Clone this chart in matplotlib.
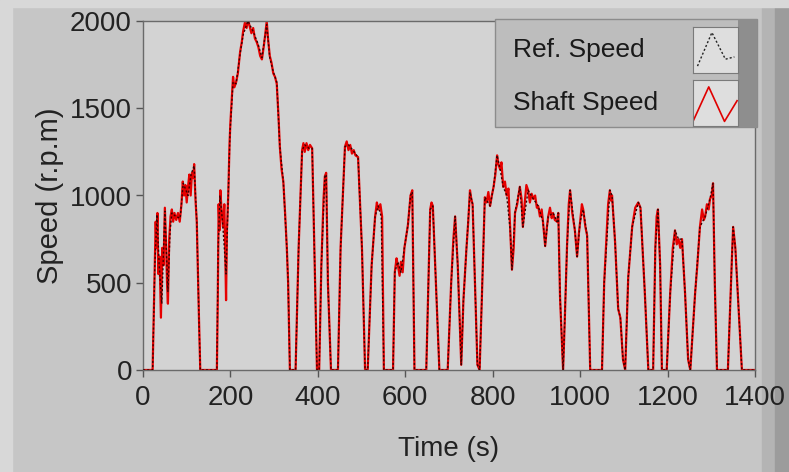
import matplotlib
matplotlib.use("Agg")
import matplotlib.pyplot as plt
from matplotlib.patches import Rectangle

plt.rcParams['font.family'] = ['Liberation Sans', 'DejaVu Sans']

# reference speed (black dotted)
ref_time = [0, 22, 27, 32, 37, 43, 50, 57, 62, 66, 75, 85, 92, 103, 110, 117, 123, 128, 131,
            169, 172, 176, 182, 190, 195, 199, 206, 213, 222, 229, 240, 252, 263, 272, 283, 290,
            298, 306, 313, 321, 329, 332, 336, 349, 356, 364, 370, 380, 387, 391, 398, 403, 408,
            416, 419, 423, 430, 446, 452, 462, 470, 480, 492, 501, 508, 514, 523, 531, 538, 545,
            551, 572, 576, 583, 590, 598, 606, 612, 616, 621, 648, 657, 663, 678, 697, 705, 714,
            720, 728, 733, 740, 748, 754, 765, 770, 775, 782, 794, 802, 810, 817, 824, 832, 840,
            844, 851, 862, 869, 881, 893, 904, 915, 920, 927, 938, 947, 950, 954, 961, 965, 970,
            977, 988, 993, 1000, 1007, 1016, 1023, 1050, 1055, 1068, 1073, 1080, 1087, 1092, 1098,
            1103, 1110, 1119, 1133, 1138, 1148, 1156, 1167, 1172, 1178, 1183, 1187, 1198, 1206,
            1217, 1225, 1233, 1240, 1247, 1252, 1263, 1274, 1286, 1297, 1304, 1308, 1313, 1338,
            1347, 1350, 1355, 1370, 1400]
ref_speed = [0, 0, 600, 890, 600, 380, 910, 450, 800, 900, 880, 870, 1070, 1000, 1120, 1170, 850, 300, 0,
             0, 700, 1000, 850, 550, 1000, 1360, 1650, 1640, 1810, 1920, 2000, 1940, 1870, 1790, 1980, 1790,
             1710, 1650, 1280, 1080, 700, 500, 0, 0, 700, 1260, 1290, 1270, 1270, 800, 0, 0, 600,
             1110, 1120, 500, 0, 0, 700, 1280, 1290, 1260, 1220, 690, 0, 0, 600, 880, 940, 880,
             0, 0, 560, 620, 560, 700, 830, 1000, 1020, 0, 0, 920, 940, 0, 0, 500, 880,
             600, 30, 400, 700, 1020, 950, 30, 0, 400, 990, 940, 1050, 1230, 1150, 1050, 1000, 800,
             575, 900, 1050, 820, 1030, 980, 940, 850, 710, 880, 900, 850, 900, 420, 0, 300, 710,
             1030, 800, 650, 850, 920, 770, 0, 0, 500, 1030, 1000, 730, 350, 300, 60,
             0, 530, 820, 960, 930, 440, 0, 0, 700, 920, 600, 0, 0, 440,
             800, 750, 750, 440, 60, 0, 440, 820, 880, 980, 1070, 500, 0, 0,
             630, 820, 700, 0, 0]

# measured shaft speed (red), noisier
shaft_time = [0, 22, 26, 29, 31, 33, 35, 38, 41, 44, 47, 50, 53, 55, 57, 60, 63, 66, 69, 72, 76, 80,
              84, 88, 91, 94, 97, 100, 103, 106, 109, 112, 115, 117, 120, 123, 128, 131,
              169, 171, 173, 175, 177, 180, 183, 186, 188, 190, 192, 195, 198, 200, 203, 206, 209,
              213, 217, 222, 226, 229, 233, 237, 240, 244, 248, 252, 256, 260, 264, 268, 272, 276,
              280, 283, 286, 290, 294, 298, 302, 306, 310, 313, 317, 321, 325, 329, 332, 336,
              349, 356, 364, 367, 370, 374, 378, 382, 387, 391, 398, 403, 408, 413, 416, 419, 423, 430,
              446, 452, 462, 466, 470, 474, 478, 482, 486, 492, 501, 508, 514, 523, 531, 535, 538, 543,
              547, 551, 572, 576, 580, 583, 587, 590, 594, 598, 606, 612, 616, 621, 648, 657, 660, 663, 678,
              697, 705, 710, 714, 720, 728, 733, 740, 744, 748, 751, 754, 765, 770, 775, 782, 786, 790,
              794, 798, 802, 806, 810, 813, 817, 820, 824, 828, 832, 836, 840, 844, 848, 851, 856, 862,
              866, 869, 873, 877, 881, 885, 889, 893, 897, 901, 904, 908, 912, 915, 920, 924, 927, 931,
              935, 938, 942, 947, 950, 954, 961, 965, 970, 974, 977, 982, 988, 993, 997, 1000, 1004,
              1007, 1012, 1016, 1023, 1050, 1055, 1064, 1068, 1071, 1073, 1080, 1087, 1092, 1098, 1103,
              1110, 1119, 1126, 1133, 1138, 1148, 1156, 1167, 1172, 1175, 1178, 1183, 1187, 1198, 1206,
              1212, 1217, 1221, 1225, 1229, 1233, 1240, 1247, 1252, 1263, 1268, 1274, 1279, 1283, 1286,
              1290, 1294, 1297, 1301, 1304, 1308, 1313, 1338, 1347, 1350, 1355, 1370, 1400]
shaft_speed = [0, 0, 500, 850, 700, 900, 550, 650, 300, 700, 600, 930, 700, 500, 380, 750, 880, 920, 850, 900, 860, 900,
               850, 950, 1080, 1000, 1060, 960, 1050, 1120, 1000, 1130, 1100, 1180, 980, 850, 300, 0,
               0, 400, 950, 800, 1030, 900, 820, 950, 700, 400, 800, 1000, 1300, 1420, 1550, 1680, 1620,
               1650, 1700, 1820, 1880, 1940, 1990, 1960, 2010, 1970, 1930, 1960, 1900, 1880, 1850, 1800, 1780, 1850,
               1930, 2000, 1900, 1800, 1760, 1700, 1680, 1640, 1450, 1280, 1150, 1080, 900, 700, 500, 0,
               0, 700, 1260, 1300, 1250, 1300, 1260, 1290, 1270, 800, 0, 0, 600, 980, 1110, 1130, 500, 0,
               0, 700, 1280, 1310, 1260, 1290, 1240, 1260, 1230, 1220, 690, 0, 0, 600, 880, 960, 920, 950,
               880, 0, 0, 560, 640, 600, 540, 620, 560, 700, 830, 1000, 1030, 0, 0, 920, 960, 940, 0,
               0, 500, 750, 880, 600, 30, 400, 700, 850, 1030, 980, 950, 30, 0, 400, 990, 960, 1020,
               940, 1000, 1050, 1120, 1230, 1180, 1150, 1190, 1050, 1080, 1000, 1040, 800, 575, 700, 900, 950, 1050,
               980, 820, 950, 1060, 1030, 960, 1010, 980, 1000, 930, 940, 880, 920, 850, 710, 820, 880, 930,
               870, 900, 860, 850, 900, 420, 0, 300, 710, 950, 1030, 900, 800, 650, 780, 850, 950,
               920, 820, 770, 0, 0, 500, 950, 1030, 970, 1000, 730, 350, 300, 60, 0,
               530, 820, 930, 960, 930, 440, 0, 0, 700, 880, 920, 600, 0, 0, 440,
               700, 800, 720, 750, 700, 750, 440, 60, 0, 440, 600, 820, 920, 860, 880,
               950, 920, 980, 1000, 1070, 500, 0, 0, 630, 820, 700, 0, 0]

xticks = [0, 200, 400, 600, 800, 1000, 1200, 1400]
yticks = [0, 500, 1000, 1500, 2000]

fig = plt.figure(figsize=(7.89, 4.72), dpi=100)
fig.patch.set_facecolor('#c6c6c6')

# panel frame (LabVIEW-like borders), kept behind the axes
frame = [((0, 0), 12 / 789, 1, '#d8d8d8'),
         ((762 / 789, 0), 13 / 789, 1, '#b4b4b4'),
         ((775 / 789, 0), 14 / 789, 1, '#9c9c9c'),
         ((0, 465 / 472), 1, 7 / 472, '#d8d8d8')]
for xy, w, h, c in frame:
    fig.patches.append(Rectangle(xy, w, h, transform=fig.transFigure, color=c, zorder=-5))

ax = fig.add_axes([143 / 789, 1 - 370 / 472, (755 - 143) / 789, (370 - 21) / 472])
ax.set_facecolor('#d3d3d3')

ax.plot(shaft_time, shaft_speed, color='#e60000', lw=1.6, zorder=2)
ax.plot(ref_time, ref_speed, color='#3a0000', lw=1.0, ls=(0, (1.5, 1.5)), zorder=3)

ax.set_xlim(0, 1400)
ax.set_ylim(0, 2000)
ax.set_xticks(xticks)
ax.set_yticks(yticks)
ax.tick_params(direction='out', length=5, width=1, color='#555555', labelsize=20,
               labelcolor='#222222', pad=3)
ax.tick_params(axis='x', pad=6)
for s in ax.spines.values():
    s.set_color('#6a6a6a')
    s.set_linewidth(1)

ax.set_xlabel('Time (s)', fontsize=20, color='#222222', labelpad=18)
ax.set_ylabel('Speed (r.p.m)', fontsize=21, color='#222222', labelpad=4)

# legend box drawn by hand
fig.patches.append(Rectangle((495 / 789, 1 - 127 / 472), 262 / 789, 108 / 472,
                             transform=fig.transFigure, facecolor='#bdbdbd', edgecolor='#8c8c8c',
                             lw=1, zorder=5))
fig.patches.append(Rectangle((738 / 789, 1 - 127 / 472), 19 / 789, 108 / 472,
                             transform=fig.transFigure, facecolor='#8e8e8e', edgecolor='none', zorder=5))
fig.text(513 / 789, 1 - 50 / 472, 'Ref. Speed', fontsize=19, color='#1a1a1a', va='center', zorder=6)
fig.text(513 / 789, 1 - 103 / 472, 'Shaft Speed', fontsize=19, color='#1a1a1a', va='center', zorder=6)

icon_ref_x = [0.1, 0.42, 0.72, 0.92]
icon_ref_y = [0.15, 0.88, 0.3, 0.35]
icon_shaft_x = [0.0, 0.35, 0.7, 0.98]
icon_shaft_y = [0.1, 0.85, 0.1, 0.55]
for top, xs, ys, style in [(27, icon_ref_x, icon_ref_y, 'ref'),
                           (80, icon_shaft_x, icon_shaft_y, 'shaft')]:
    iax = fig.add_axes([693 / 789, 1 - (top + 46) / 472, 45 / 789, 46 / 472], zorder=7)
    iax.set_facecolor('#dedede')
    if style == 'ref':
        iax.plot(xs, ys, color='#222222', lw=1, ls=(0, (1.5, 1.5)))
    else:
        iax.plot(xs, ys, color='#e00000', lw=1.2)
    iax.set_xlim(0, 1)
    iax.set_ylim(0, 1)
    iax.set_xticks([])
    iax.set_yticks([])
    for s in iax.spines.values():
        s.set_color('#7a7a7a')

fig.savefig('out.png', dpi=100, facecolor=fig.get_facecolor())
